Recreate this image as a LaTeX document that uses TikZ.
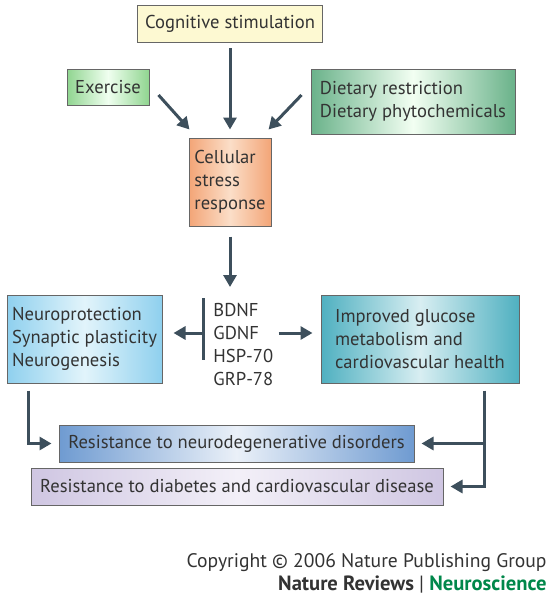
\documentclass[tikz,border=0pt]{standalone}
\usepackage{fontspec}
\setmainfont{PT Sans}
\usetikzlibrary{arrows.meta}
\definecolor{ink}{HTML}{333333}
\definecolor{arrowc}{HTML}{3D4F5C}
\definecolor{nrgreen}{HTML}{00874A}
\tikzstyle{box} = [draw=gray!80!black, line width=0.5pt, inner sep=0pt, align=left, text=ink, font=\fontsize{9.3}{11.5}\selectfont]
\tikzstyle{txt} = [draw=none, inner sep=0pt, text=ink, font=\fontsize{9.3}{11.5}\selectfont]
\tikzstyle{arr} = [draw=arrowc, line width=1.5pt, -{Triangle[length=6pt, width=6.5pt]}]
\tikzstyle{bar} = [draw=arrowc, line width=1.5pt]

\begin{document}
\begin{tikzpicture}[x=0.5pt, y=-0.5pt]
    \useasboundingbox (0,0) rectangle (557,600);
    %\draw[help lines, step=50] (0,0) grid (557,600);

    % inputs
    \node[box, fill={rgb,255:red,253;green,249;blue,210}, minimum width=92.75pt, minimum height=18.5pt] (cog) at (230,24) {Cognitive stimulation};
    \node[box, left color=green!45!gray!60, right color=green!45!gray!60, middle color=green!6, minimum width=41pt, minimum height=18pt] (exer) at (108,87) {Exercise};
    \node[box, left color={rgb,255:red,106;green,178;blue,138}, right color={rgb,255:red,106;green,178;blue,138}, middle color=green!5, minimum width=102pt, minimum height=32.5pt] (diet) at (413,101.5) {Dietary restriction\\Dietary phytochemicals};

    % stress response
    \node[box, left color={rgb,255:red,243;green,165;blue,119}, right color={rgb,255:red,243;green,165;blue,119}, middle color={rgb,255:red,251;green,222;blue,200}, minimum width=41pt, minimum height=44pt] (cell) at (230,182) {Cellular\\stress\\response};

    % mediators
    \coordinate (cellend) at (230,287);
    \coordinate (bart) at (203,298);
    \coordinate (barb) at (203,360);
    \coordinate (hub) at (203,333);
    \node[txt, align=left, anchor=west] (fac) at (213,344) {BDNF\\GDNF\\HSP-70\\GRP-78};

    % effects
    \node[box, left color={rgb,255:red,143;green,208;blue,238}, right color={rgb,255:red,143;green,208;blue,238}, middle color={rgb,255:red,226;green,244;blue,251}, minimum width=77.5pt, minimum height=44pt] (neuro) at (84.5,339) {Neuroprotection\\Synaptic plasticity\\Neurogenesis};
    \node[box, left color={rgb,255:red,79;green,176;blue,192}, right color={rgb,255:red,79;green,176;blue,192}, middle color={rgb,255:red,216;green,238;blue,242}, minimum width=99pt, minimum height=44pt] (gluc) at (420,339) {Improved glucose\\metabolism and\\cardiovascular health};

    % outcomes
    \node[box, left color={rgb,255:red,111;green,155;blue,209}, right color={rgb,255:red,111;green,155;blue,209}, middle color={rgb,255:red,234;green,240;blue,248}, minimum width=177.5pt, minimum height=18.5pt] (resn) at (236.5,443.5) {Resistance to neurodegenerative disorders};
    \node[box, left color={rgb,255:red,207;green,198;blue,226}, right color={rgb,255:red,207;green,198;blue,226}, middle color={rgb,255:red,243;green,240;blue,248}, minimum width=206pt, minimum height=18.5pt] (resd) at (237,486.5) {Resistance to diabetes and cardiovascular disease};

    % connectors
    \draw[arr, shorten <=2.5pt, shorten >=4pt] (cog) -- (cell);
    \draw[arr] ([shift={(4.5pt,-4pt)}]exer.east) -- ([shift={(0.5pt,4pt)}]cell.north west);
    \draw[arr] ([shift={(-4.5pt,3.25pt)}]diet.west) -- ([shift={(-1.5pt,4pt)}]cell.north east);
    \draw[arr, shorten <=5pt] (cell.south) -- (cellend);
    \draw[bar] (bart) -- (barb);
    \draw[arr, shorten >=5.5pt] (hub) -- (neuro.east |- hub);
    \draw[arr, shorten >=4pt] ([xshift=2.5pt]fac.east |- hub) -- (gluc.west |- hub);
    \draw[arr, shorten >=3.5pt] ([shift={(11pt,-3.5pt)}]neuro.south west) |- (resn.west);
    \coordinate (jr) at ([xshift=-17.5pt]gluc.south east |- resn.east);
    \draw[arr, shorten >=3.5pt] ([shift={(-17.5pt,-3.5pt)}]gluc.south east) |- (resd.east);
    \draw[arr, shorten >=3.5pt] (jr) -- (resn.east);

    % credit
    \node[txt, anchor=base east, font=\fontsize{9.8}{11}\selectfont] (copy) at (547,567) {Copyright © 2006 Nature Publishing Group};
    \node[txt, anchor=base east, font=\fontsize{10.3}{11}\selectfont\bfseries] (nrn) at (547,590) {Nature Reviews {\mdseries|} \textcolor{nrgreen}{Neuroscience}};
\end{tikzpicture}
\end{document}
